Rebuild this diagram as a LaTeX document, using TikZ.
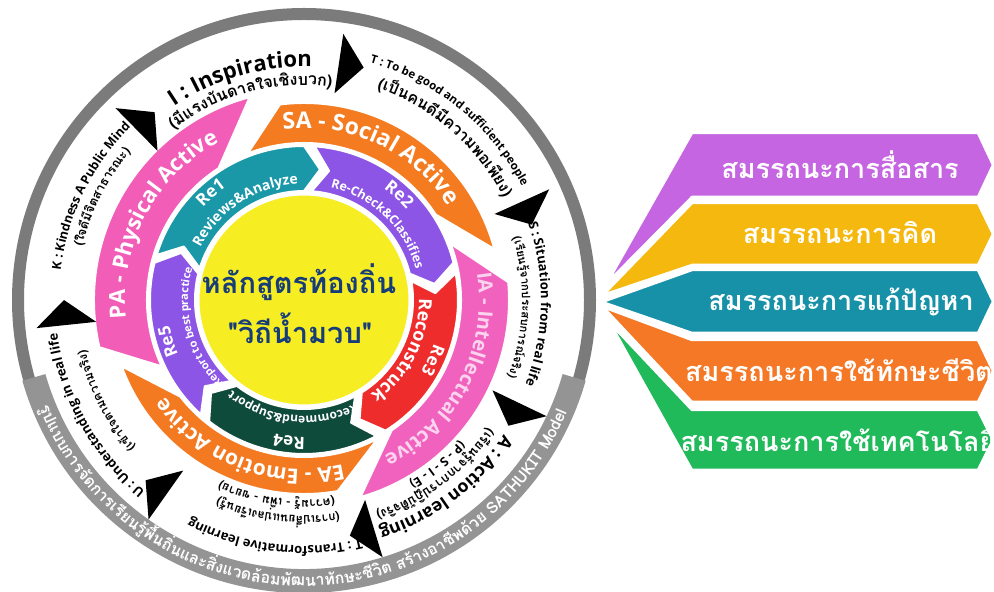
\documentclass[tikz,border=0pt]{standalone}
\usepackage{fontspec}
\setmainfont{Open Sans}
\newfontfamily\thaifont[Script=Thai]{Loma}
\usetikzlibrary{decorations.text}

\definecolor{papink}{HTML}{F25DB8}
\definecolor{saorange}{HTML}{F47B20}
\definecolor{iapink}{HTML}{F062BE}
\definecolor{iatext}{HTML}{FCD3EE}
\definecolor{eaorange}{HTML}{F47A22}
\definecolor{reteal}{HTML}{1A98A8}
\definecolor{repurple}{HTML}{8C55E6}
\definecolor{rered}{HTML}{EE2C2C}
\definecolor{regreen}{HTML}{0F4B3B}
\definecolor{hubyellow}{HTML}{F6EE22}
\definecolor{hubnavy}{HTML}{173C7A}
\definecolor{ringgray}{HTML}{7B7B7B}
\definecolor{bandgray}{HTML}{949494}
\definecolor{cpurple}{HTML}{C565E2}
\definecolor{cyellow}{HTML}{F4B80E}
\definecolor{cteal}{HTML}{1791A8}
\definecolor{corange}{HTML}{F47826}
\definecolor{cgreen}{HTML}{20BA5A}

\newcommand\fsz[1]{\fontsize{#1}{#1}\selectfont}
% text on a circle round the hub: centre angle, baseline radius, format, text
\newcommand\cwtext[4]{\def\ringfmt{#3}%
  \path[decorate,decoration={text along path,text align=center,text={|\ringfmt|#4}}]
    (#1+75:#2) arc[start angle=#1+75,end angle=#1-75,radius=#2pt];}
\newcommand\ccwtext[4]{\def\ringfmt{#3}%
  \path[decorate,decoration={text along path,text align=center,text={|\ringfmt|#4}}]
    (#1-80:#2) arc[start angle=#1-80,end angle=#1+80,radius=#2pt];}
% big curved arrow: fill, start angle, tip angle, outer radius, start slant
\newcommand\bigarrow[5]{%
  \filldraw[fill=#1,draw=white,line width=2pt] (#2:#4) arc[start angle=#2,end angle=#3,radius=#4pt]
    -- (#3+18:157) arc[start angle=#3+18,end angle=#2+#5,radius=157pt] -- cycle;}
% chevron segment of the Re ring: fill, start angle, end angle
\newcommand\reseg[3]{%
  \filldraw[fill=#1,draw=white,line width=2pt] (#2:154) arc[start angle=#2,end angle=#3,radius=154pt]
    -- (#3-7:131.5) -- (#3:109) arc[start angle=#3,end angle=#2,radius=109pt] -- (#2-7:131.5) -- cycle;}
% ribbon on the right: fill, top, bottom, fan x, fan y
\newcommand\ribbon[5]{%
  \filldraw[fill=#1,draw=white,line width=2.5pt] (#4,#5) -- (692,#2) -- (978,#2)
    -- (993,{(#2+#3)/2}) -- (978,#3) -- (692,#3) -- cycle;}

\begin{document}
\begin{tikzpicture}[x=1pt,y=1pt,line join=round,
    comp/.style={font=\thaifont\fsz{27}\bfseries,text=white,inner sep=0pt},
    hub/.style={font=\thaifont\fsz{29}\bfseries,text=hubnavy,inner sep=0pt}]
  \useasboundingbox (0,0) rectangle (994,592);
  \begin{scope}[shift={(304,292)}]
    \draw[ringgray,line width=12pt] (0,0) circle[radius=286pt];
    \draw[bandgray,line width=24pt] (196:281) arc[start angle=196,end angle=344,radius=281pt];

    \bigarrow{papink}{193}{105}{210}{12}
    \bigarrow{saorange}{97}{15}{197}{14}
    \bigarrow{iapink}{5}{-74}{205}{16}
    \bigarrow{eaorange}{-80}{-160}{194}{18}

    \reseg{reteal}{163}{90}
    \reseg{repurple}{86}{14}
    \reseg{rered}{10}{-58}
    \reseg{regreen}{-62}{-128}
    \reseg{repurple}{-132}{-194}

    \filldraw[fill=hubyellow,draw=white,line width=3pt] (0,0) circle[radius=106pt];

    \foreach \a in {81.6,24.3,-25.6,-73,-125.3,-174,134.5}
      \fill (\a:209) -- (\a:269) -- (\a-6:240) -- cycle;

    % outer ring
    \cwtext{106}{233}{\fsz{22}\bfseries}{I : Inspiration}
    \cwtext{105}{215}{\thaifont\fsz{16}\bfseries}{({มี}แรง{บั}นดาลใจเ{ชิ}งบวก)}
    \cwtext{51}{246}{\fsz{11.5}\bfseries}{T : To be good and sufficient people}
    \cwtext{49}{224}{\thaifont\fsz{16}\bfseries}{(เ{ป็}นคน{ดี}{มี}ความพอเ{พี}ยง)}
    \cwtext{-1}{237}{\fsz{13}\bfseries}{S : Situation from real life}
    \cwtext{-2}{218}{\thaifont\fsz{11.5}\bfseries}{(เ{รี}ยน{รู้}จากประสบการ{ณ์}จ{ริ}ง)}
    \cwtext{-53}{241}{\fsz{17.5}\bfseries}{A : Action learning}
    \cwtext{-53}{224}{\thaifont\fsz{13}\bfseries}{(เ{รี}ยน{รู้}จากการป{ฏิ}{บั}{ติ}จ{ริ}ง)}
    \cwtext{-51}{210}{\fsz{12.5}\bfseries}{(P - S - I - E)}
    \cwtext{-97}{246}{\fsz{13}\bfseries}{T : Transformative learning}
    \cwtext{-97}{216}{\thaifont\fsz{12}\bfseries}{(การเป{ลี่}ยนแปลงเ{รี}ยน{รู้})}
    \cwtext{-98}{200}{\thaifont\fsz{12}\bfseries}{(ความ{รู้} - เ{พิ่}ม - ขยาย)}
    \cwtext{-151}{249}{\fsz{13}\bfseries}{U : Understanding in real life}
    \cwtext{-153}{224}{\thaifont\fsz{12}\bfseries}{(เ{ข้}าใจตามความจ{ริ}ง)}
    \cwtext{154}{245}{\fsz{12.5}\bfseries}{K : Kindness A Public Mind}
    \cwtext{153}{228}{\thaifont\fsz{12.5}\bfseries}{(ใจ{ดี}{มี}{จิ}ตสาธารณะ)}
    \ccwtext{269.5}{286}{\thaifont\fsz{16}\bfseries\color{white}}{{รู}ปแบบการ{จั}ดการเ{รี}ยน{รู้}{พื้}น{ถิ่}นและ{สิ่}งแวด{ล้}อม{พั}ฒนา{ทั}กษะ{ชี}{วิ}ต ส{ร้}างอา{ชี}พ{ด้}วย SATHUKIT Model}

    % arrows
    \cwtext{152}{179}{\fsz{22}\bfseries\color{white}}{PA - Physical Active}
    \cwtext{65}{172}{\fsz{23}\bfseries\color{white}}{SA - Social Active}
    \cwtext{-27}{175}{\fsz{20}\bfseries\color{iatext}}{IA - Intellectual Active}
    \cwtext{-111}{169}{\fsz{21}\bfseries\color{white}}{EA - Emotion Active}

    % Re ring
    \cwtext{131}{137}{\fsz{17}\bfseries\color{white}}{Re1}
    \cwtext{123}{116}{\fsz{14}\bfseries\color{white}}{Reviews{\&}Analyze}
    \cwtext{48}{137}{\fsz{17}\bfseries\color{white}}{Re2}
    \cwtext{46}{116}{\fsz{12.5}\bfseries\color{white}}{Re-Check{\&}Classifies}
    \cwtext{-25}{137}{\fsz{17}\bfseries\color{white}}{Re3}
    \cwtext{-27}{115}{\fsz{18}\bfseries\color{white}}{Reconstruck}
    \cwtext{-96}{137}{\fsz{17}\bfseries\color{white}}{Re4}
    \cwtext{-96}{116}{\fsz{12}\bfseries\color{white}}{Recommend{\&}Support}
    \cwtext{197}{137}{\fsz{17}\bfseries\color{white}}{Re5}
    \cwtext{195}{116}{\fsz{11}\bfseries\color{white}}{Report to best practice}

    \node[hub] (hubtop) at (-5,18) {หลักสูตรท้องถิ่น};
    \node[hub] (hubbot) at (-4,-28) {"วิถีน้ำมวบ"};
  \end{scope}

  \ribbon{cpurple}{459}{395}{607}{309}
  \ribbon{cyellow}{389}{327}{603}{297}
  \ribbon{cteal}{322}{259}{602}{290}
  \ribbon{corange}{252}{190}{603}{285}
  \ribbon{cgreen}{182}{122}{610}{269}
  \node[comp] (comm) at (840,427) {สมรรถนะการสื่อสาร};
  \node[comp] (think) at (840,359) {สมรรถนะการคิด};
  \node[comp] (solve) at (841,290) {สมรรถนะการแก้ปัญหา};
  \node[comp] (life) at (839,222) {สมรรถนะการใช้ทักษะชีวิต};
  \node[comp] (tech) at (838,152) {สมรรถนะการใช้เทคโนโลยี};
\end{tikzpicture}
\end{document}
